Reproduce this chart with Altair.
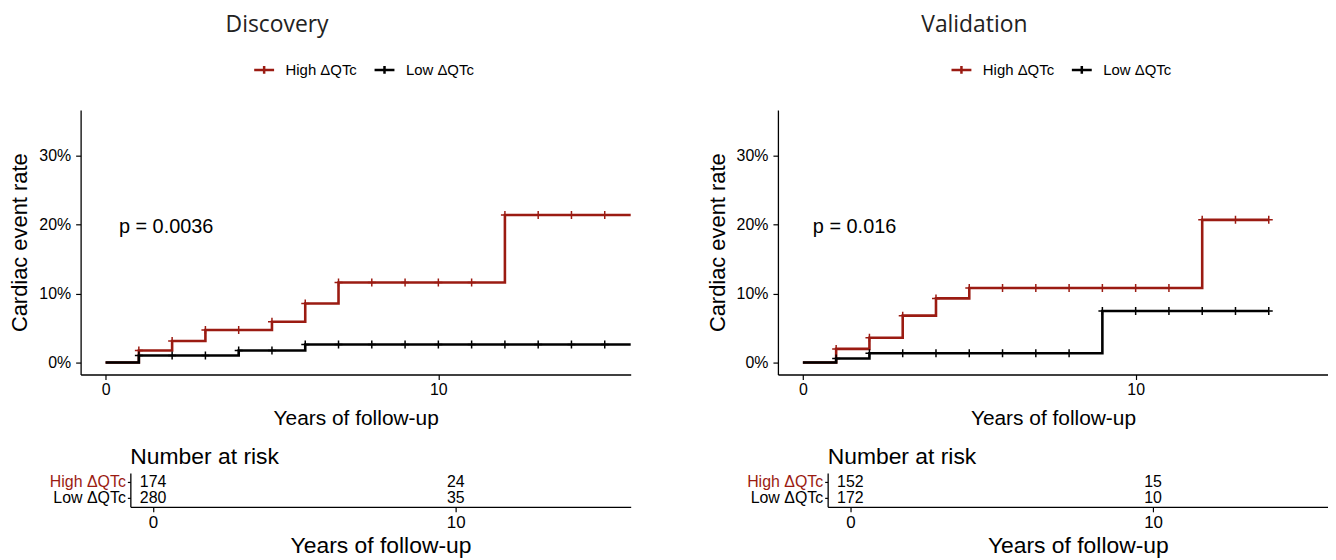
import altair as alt
import pandas as pd

RED = "#9B1B12"
BLACK = "#000000"
GROUPS = ["High ΔQTc", "Low ΔQTc"]

# ---------------- Discovery ----------------
disc_high_t = [0, 1, 2, 3, 5, 6, 7, 12, 15.8]
disc_high_v = [0.0, 1.73, 3.13, 4.72, 5.92, 8.57, 11.6, 21.4, 21.4]
disc_low_t = [0, 1, 4, 6, 15.8]
disc_low_v = [0.0, 1.01, 1.73, 2.6, 2.6]
disc_censor_years = [1, 2, 3, 4, 5, 6, 7, 8, 9, 10, 11, 12, 13, 14, 15]
disc_pval = "p = 0.0036"
disc_pval_x = 0.4
disc_pval_y = 19.6
disc_risk_years = [0, 10]
disc_risk_high = [174, 24]
disc_risk_low = [280, 35]

# ---------------- Validation ----------------
val_high_t = [0, 1, 2, 3, 4, 5, 12, 14]
val_high_v = [0.0, 1.97, 3.6, 6.8, 9.3, 10.8, 20.7, 20.7]
val_low_t = [0, 1, 2, 9, 14]
val_low_v = [0.0, 0.58, 1.35, 7.46, 7.46]
val_censor_years = [1, 2, 3, 4, 5, 6, 7, 8, 9, 10, 11, 12, 13, 14]
val_pval = "p = 0.016"
val_pval_x = 0.3
val_pval_y = 19.6
val_risk_years = [0, 10]
val_risk_high = [152, 15]
val_risk_low = [172, 10]

x_ticks = [0, 10]
y_ticks = [0, 10, 20, 30]
X_DOMAIN = [-0.75, 15.78]
Y_DOMAIN = [-1.745, 36.65]

W = 553
H = 266
RISK_OFF = 50
FONT = "Liberation Sans"


def step_at(ts, vs, t):
    val = vs[0]
    for ti, vi in zip(ts, vs):
        if ti <= t:
            val = vi
    return val


def panel(title, title_dx, ht, hv, lt, lv, cens_years, ptxt, px, py,
          risk_years, risk_high, risk_low):
    curve = pd.DataFrame(
        [{"t": t, "v": v, "group": GROUPS[0]} for t, v in zip(ht, hv)]
        + [{"t": t, "v": v, "group": GROUPS[1]} for t, v in zip(lt, lv)]
    )
    cens = pd.DataFrame(
        [{"t": c, "v": step_at(ht, hv, c), "group": GROUPS[0]} for c in cens_years]
        + [{"t": c, "v": step_at(lt, lv, c), "group": GROUPS[1]} for c in cens_years]
    )
    ptab = pd.DataFrame([{"t": px, "v": py, "label": ptxt}])

    xenc = alt.X("t:Q",
                 scale=alt.Scale(domain=X_DOMAIN, nice=False, zero=False),
                 axis=alt.Axis(values=x_ticks, title="Years of follow-up",
                               labelFontSize=16, titleFontSize=21,
                               tickSize=5, labelPadding=2, titlePadding=10))
    yenc = alt.Y("v:Q",
                 scale=alt.Scale(domain=Y_DOMAIN, nice=False, zero=False),
                 axis=alt.Axis(values=y_ticks, labelExpr="datum.value + '%'",
                               title="Cardiac event rate",
                               labelFontSize=16, titleFontSize=22,
                               tickSize=5, labelPadding=5, titlePadding=7))
    cscale = alt.Scale(domain=GROUPS, range=[RED, BLACK])

    lines = alt.Chart(curve).mark_line(
        interpolate="step-after", strokeWidth=2.6, clip=True
    ).encode(
        x=xenc, y=yenc,
        color=alt.Color("group:N", scale=cscale, legend=alt.Legend(
            title=None, orient="none", legendX=173, legendY=-52,
            direction="horizontal",
            symbolType="M-1,0H1M0,-0.4V0.4", symbolSize=400,
            symbolStrokeWidth=2.5, labelFontSize=15, labelFont=FONT,
            labelColor="black", labelOffset=10, columnPadding=12, padding=0,
        )),
    )
    marks = alt.Chart(cens).mark_point(
        shape="M0,-1V1M-1,0H1", filled=False, size=64, strokeWidth=1.5,
        opacity=1, clip=True
    ).encode(
        x="t:Q", y="v:Q",
        color=alt.Color("group:N", scale=cscale, legend=None),
    )
    ptext = alt.Chart(ptab).mark_text(
        align="left", baseline="middle", fontSize=20, font=FONT, color="black"
    ).encode(x="t:Q", y="v:Q", text="label:N")

    main = alt.layer(lines, marks, ptext).properties(
        width=W, height=H,
        title=alt.TitleParams(title, font="Open Sans", fontSize=23,
                              fontWeight="normal", color="#222222",
                              anchor="middle", frame="group", dx=title_dx,
                              offset=21),
    )

    rtab = pd.DataFrame(
        [{"t": t, "n": n, "group": GROUPS[0]} for t, n in zip(risk_years, risk_high)]
        + [{"t": t, "n": n, "group": GROUPS[1]} for t, n in zip(risk_years, risk_low)]
    )
    label_color = "datum.value == '%s' ? '%s' : 'black'" % (GROUPS[0], RED)
    risk = alt.Chart(rtab).mark_text(
        fontSize=16, font=FONT, align="center", baseline="middle", color="black"
    ).encode(
        x=alt.X("t:Q",
                scale=alt.Scale(domain=X_DOMAIN, range=[RISK_OFF, W],
                                nice=False, zero=False),
                axis=alt.Axis(values=x_ticks, title="Years of follow-up",
                              labelFontSize=17, titleFontSize=23,
                              tickSize=5, labelPadding=3, titlePadding=4)),
        y=alt.Y("group:N",
                scale=alt.Scale(type="point", domain=GROUPS, padding=0.55),
                axis=alt.Axis(title=None, offset=-RISK_OFF, labelFontSize=16,
                              tickSize=3, labelPadding=2,
                              labelColor=alt.ExprRef(label_color))),
        text="n:Q",
    ).properties(
        width=W, height=34,
        title=alt.TitleParams("Number at risk", font=FONT, fontSize=23,
                              fontWeight="normal", color="black",
                              anchor="start", frame="group", dx=RISK_OFF,
                              offset=4),
    )
    return alt.vconcat(main, risk, spacing=18).resolve_scale(
        color="independent", x="independent", y="independent")


left = panel("Discovery", -79, disc_high_t, disc_high_v, disc_low_t, disc_low_v,
             disc_censor_years, disc_pval, disc_pval_x, disc_pval_y,
             disc_risk_years, disc_risk_high, disc_risk_low)
right = panel("Validation", -79, val_high_t, val_high_v, val_low_t, val_low_v,
              val_censor_years, val_pval, val_pval_x, val_pval_y,
              val_risk_years, val_risk_high, val_risk_low)

chart = alt.hconcat(left, right, spacing=75).resolve_scale(
    color="independent").resolve_legend(color="independent").properties(
    padding={"left": 0, "top": 5, "right": 0, "bottom": 0}
).configure_view(stroke=None).configure_axis(
    grid=False, domainColor="black", tickColor="black", labelColor="black",
    titleColor="black", labelFont=FONT, titleFont=FONT,
    titleFontWeight="normal", domainWidth=1.3, tickWidth=1.2,
)

chart.save("out.html", embed_options={"renderer": "svg", "actions": False})
